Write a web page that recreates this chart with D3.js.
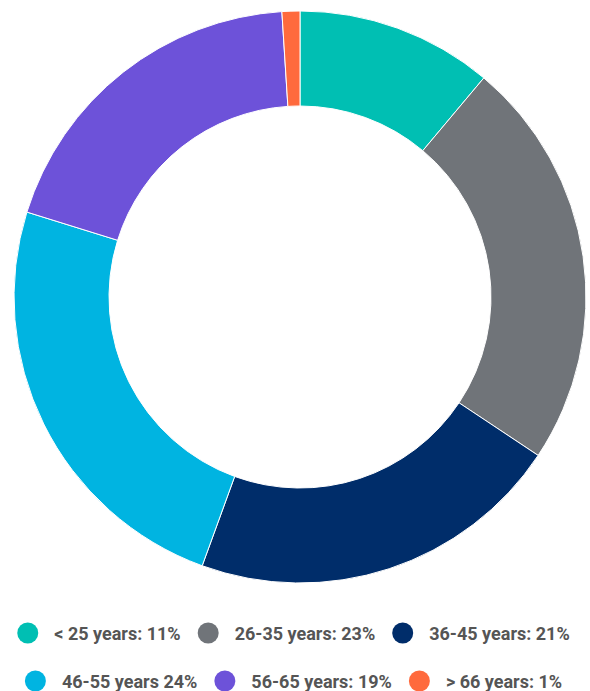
<!DOCTYPE html>
<html>
<head>
<meta charset="utf-8">
<script src="https://cdn.jsdelivr.net/npm/d3@7"></script>
<style>
  html, body { margin: 0; padding: 0; background: #fff; }
  svg { display: block; }
</style>
</head>
<body>
<script>
// age groups and their share (%)
var labels = ["< 25 years: 11%", "26-35 years: 23%", "36-45 years: 21%",
              "46-55 years 24%", "56-65 years: 19%", "> 66 years: 1%"];
var groups = ["< 25", "26-35", "36-45", "46-55", "56-65", "> 66"];
var shares = [11, 23, 21, 24, 19, 1];
var colors = ["#00bfb3", "#707479", "#002d6a", "#00b4e1", "#6d52d9", "#ff6a3d"];

var w = 590;
var h = 691;
var cx = 300, cy = 297;
var outerR = 286, innerR = 191;

var svg = d3.select("body")
  .append("svg")
  .attr("width", w)
  .attr("height", h);

var data = groups.map(function(g, i) {
  return { group: g, value: shares[i], label: labels[i], color: colors[i] };
});

// pie starts at 12 o'clock and goes clockwise, no sorting
var pie = d3.pie()
  .value(function(d) { return d.value; })
  .sort(null);

var arc = d3.arc()
  .innerRadius(innerR)
  .outerRadius(outerR);

svg.append("g")
  .attr("transform", "translate(" + cx + "," + cy + ")")
  .selectAll("path")
  .data(pie(data))
  .enter()
  .append("path")
  .attr("d", arc)
  .attr("fill", function(d) { return d.data.color; })
  .attr("stroke", "#fff")
  .attr("stroke-width", 1);

// legend, two centred rows of three
var rows = [data.slice(0, 3), data.slice(3)];
var rowY = [633, 681];
var r = 10.5, gapText = 16, gapItem = 17;

rows.forEach(function(row, ri) {
  var g = svg.append("g");
  var x = 0;
  row.forEach(function(d) {
    g.append("circle")
      .attr("cx", x + r)
      .attr("cy", rowY[ri])
      .attr("r", r)
      .attr("fill", d.color);
    var t = g.append("text")
      .attr("x", x + 2 * r + gapText)
      .attr("y", rowY[ri] + 6.5)
      .attr("font-family", "Roboto, sans-serif")
      .attr("font-size", 18)
      .attr("font-weight", 700)
      .attr("fill", "#555")
      .text(d.label);
    x += 2 * r + gapText + t.node().getComputedTextLength() + gapItem;
  });
  var total = x - gapItem;
  g.attr("transform", "translate(" + (293.5 - total / 2) + ",0)");
});
</script>
</body>
</html>
